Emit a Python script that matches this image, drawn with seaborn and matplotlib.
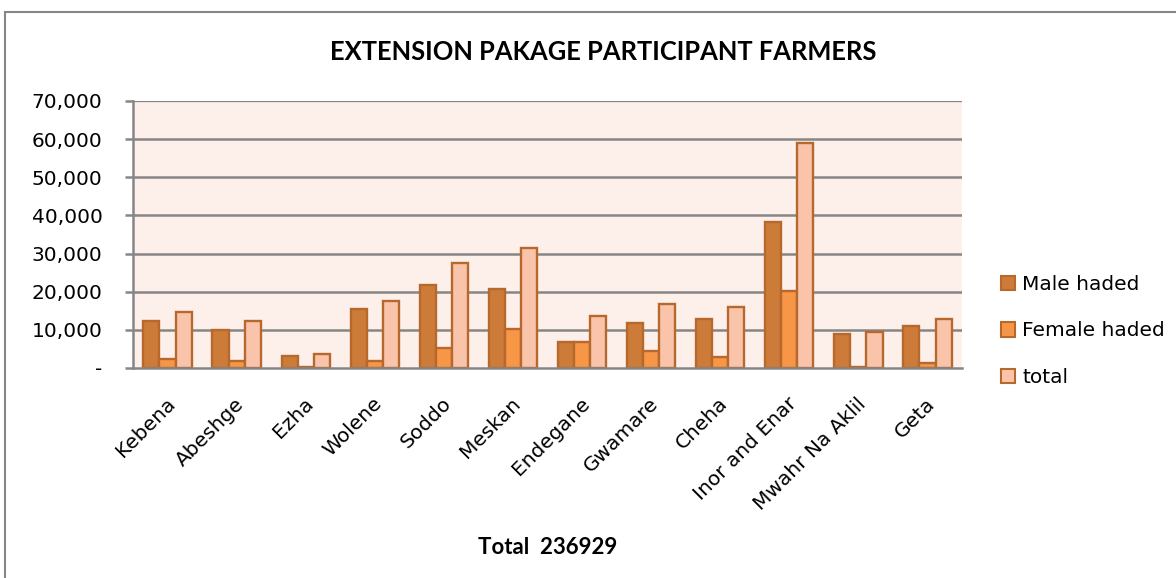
import pandas as pd
import matplotlib.pyplot as plt
import seaborn as sns
from matplotlib.patches import Rectangle, Patch
from matplotlib.ticker import FuncFormatter
from matplotlib.transforms import ScaledTranslation

distritos = ['Kebena', 'Abeshge', 'Ezha', 'Wolene', 'Soddo', 'Meskan', 'Endegane',
             'Gwamare', 'Cheha', 'Inor and Enar', 'Mwahr Na Aklil', 'Geta']
male = [12300, 9900, 3250, 15350, 21700, 20600, 6700, 11900, 12900, 38200, 8950, 10900]
female = [2300, 1950, 260, 1950, 5350, 10350, 6700, 4450, 2900, 20300, 260, 1300]
total = [14650, 12300, 3800, 17450, 27450, 31400, 13700, 16650, 16050, 58900, 9550, 12900]
series = ['Male haded', 'Female haded', 'total']
cores = ['#CC7B38', '#F79646', '#FAC4AB']
borda = '#B7682C'
cinza = '#868686'

df = pd.DataFrame({'Distrito': distritos * 3,
                   'Serie': [s for s in series for _ in distritos],
                   'Valor': male + female + total})

sns.set_theme(style="white")
plt.rcParams['font.family'] = ['DejaVu Sans']
plt.rcParams['text.color'] = 'black'
plt.rcParams['xtick.color'] = 'black'
plt.rcParams['ytick.color'] = 'black'

fig = plt.figure(figsize=(11.76, 5.78), dpi=100)
fig.patches.append(Rectangle((5 / 1176, -0.1), 1.2, 1.1 - 12 / 578, transform=fig.transFigure,
                             fill=False, edgecolor=cinza, linewidth=1.5))
ax = fig.add_axes([133 / 1176, 1 - 368 / 578, (962 - 133) / 1176, (368 - 101) / 578])
ax.set_facecolor('#FDEFEA')

sns.barplot(data=df, x='Distrito', y='Valor', hue='Serie', palette=cores, width=0.7,
            edgecolor=borda, linewidth=1.7, saturation=1, legend=False, ax=ax, zorder=3)

ax.set_ylim(0, 70000)
ax.set_yticks(range(0, 70001, 10000))
ax.yaxis.set_major_formatter(FuncFormatter(lambda v, p: '-' if v == 0 else f'{int(v):,}'))
ax.grid(axis='y', color=cinza, linewidth=1.8, zorder=1)
ax.get_ygridlines()[-1].set_linewidth(0.9)
ax.get_ygridlines()[0].set_linewidth(0)
for s in ['top', 'right']:
    ax.spines[s].set_visible(False)
for s in ['left', 'bottom']:
    ax.spines[s].set_color(cinza)
    ax.spines[s].set_linewidth(1.8)
    ax.spines[s].set_zorder(4)
ax.tick_params(axis='y', left=True, length=6, width=1.8, color=cinza, labelsize=14.5, pad=16)
ax.tick_params(axis='x', bottom=False, labelsize=14.5, pad=2)
ax.set_xlim(-0.5, len(distritos) - 0.5)
deslocamento = ScaledTranslation(-2 / 100, -15 / 100, fig.dpi_scale_trans)
for rotulo in ax.get_xticklabels():
    rotulo.set_rotation(45)
    rotulo.set_ha('right')
    rotulo.set_rotation_mode('anchor')
    rotulo.set_transform(rotulo.get_transform() + deslocamento)
ax.set_xlabel('')
ax.set_ylabel('')

fig.text(603 / 1176, 1 - 52 / 578, 'EXTENSION PAKAGE PARTICIPANT FARMERS', ha='center', va='center',
         fontsize=18.4, fontweight='bold', family=['Lato', 'DejaVu Sans'])
fig.text(548 / 1176, 1 - 548 / 578, 'Total  236929', ha='center', va='center',
         fontsize=16, fontweight='bold', family=['Lato', 'DejaVu Sans'])

handles = [Patch(facecolor=c, edgecolor=borda, linewidth=1.5) for c in cores]
fig.legend(handles, series, loc='center left', bbox_to_anchor=(983 / 1176, 1 - 331 / 578),
           frameon=False, fontsize=14.5, handlelength=0.7, handleheight=0.7,
           handletextpad=0.35, labelspacing=1.35)

fig.savefig('out.png', dpi=100)
